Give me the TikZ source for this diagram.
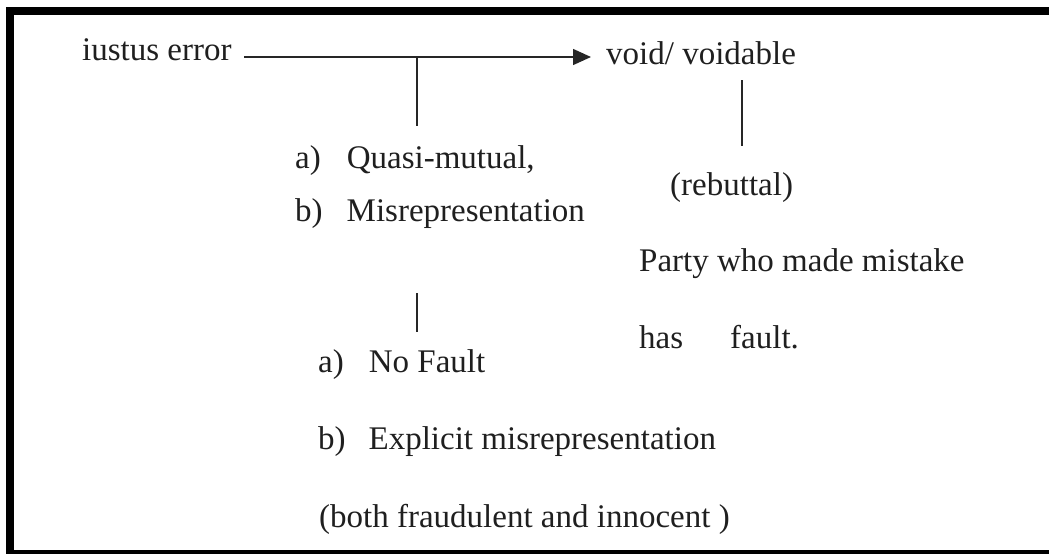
\documentclass[tikz,border=0pt]{standalone}
\usepackage{fontspec}
\setmainfont{Liberation Serif}
\usetikzlibrary{arrows.meta}
\begin{document}
\begin{tikzpicture}[x=1pt,y=-1pt,
  lbl/.style={anchor=base west, inner sep=0pt, font=\fontsize{33}{40}\selectfont, text=black!88},
  conn/.style={line width=1.5pt, draw=black!85},
  framebar/.style={fill=black, draw=none}]
\useasboundingbox (0,0) rectangle (1049,554);
% frame
\fill[framebar] (6,7) rectangle (1049,15);
\fill[framebar] (6,7) rectangle (14,554);
\fill[framebar] (6,550) rectangle (1049,554);
% texts
\node[lbl] (iustus) at (82,60) {iustus error};
\node[lbl] (void) at (606,64) {void/ voidable};
\node[lbl] (qm) at (295,168) {a)\hspace{26pt}Quasi-mutual,};
\node[lbl] (mr) at (295,221) {b)\hspace{24pt}Misrepresentation};
\node[lbl] (reb) at (670,195) {(rebuttal)};
\node[lbl] (party) at (639,271) {Party who made mistake};
\node[lbl] (has) at (639,348) {has\hspace{47pt}fault.};
\node[lbl] (nf) at (318,372) {a)\hspace{25pt}No Fault};
\node[lbl] (em) at (318,449) {b)\hspace{23pt}Explicit misrepresentation};
\node[lbl] (bf) at (319,527) {(both fraudulent and innocent )};
% connectors
\coordinate (a0) at (244,57);
\coordinate (a1) at (591,57);
\draw[conn, -{Triangle[length=18pt,width=16pt]}] (a0) -- (a1);
\coordinate (b0) at (417,57);
\coordinate (b1) at (417,126);
\draw[conn] (b0) -- (b1);
\coordinate (v0) at (742,80);
\coordinate (v1) at (742,146);
\draw[conn] (v0) -- (v1);
\coordinate (m0) at (417,293);
\coordinate (m1) at (417,332);
\draw[conn] (m0) -- (m1);
\end{tikzpicture}
\end{document}
